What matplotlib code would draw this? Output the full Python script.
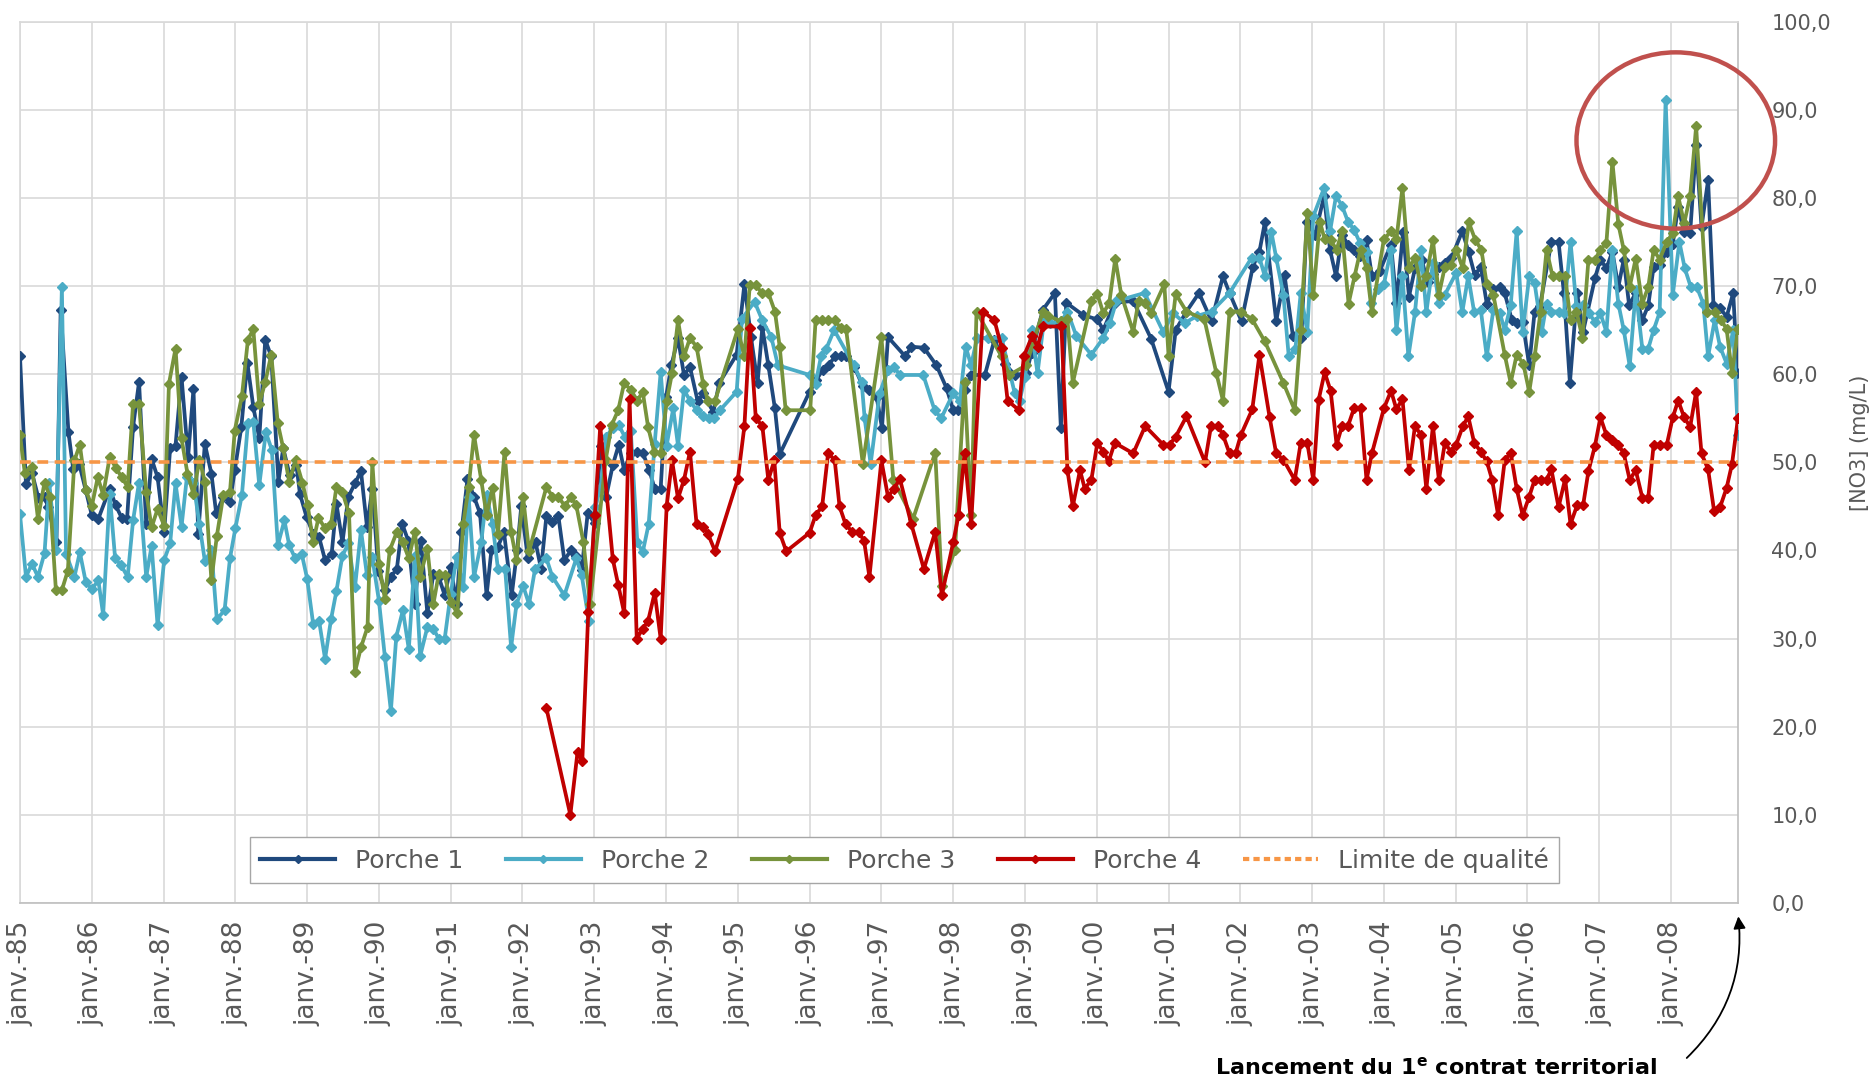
import matplotlib
matplotlib.use('Agg')
import matplotlib.pyplot as plt
from matplotlib.patches import Ellipse
from matplotlib.lines import Line2D

# mois depuis janv. 1985 / nitrates (mg/L)
p1_mois = [0.0, 1.0, 2.0, 3.1, 4.1, 4.7, 6.1, 6.8, 8.1, 8.9, 9.9, 11.0, 12.0, 13.1, 15.0, 16.0, 17.0, 17.9,
           18.9, 19.9, 21.1, 22.0, 23.0, 24.1, 25.1, 26.0, 27.0, 28.1, 29.0, 29.8, 30.9, 32.0, 32.8, 34.0,
           35.1, 35.9, 37.0, 38.0, 39.0, 40.0, 41.0, 42.0, 43.2, 44.0, 45.1, 46.2, 46.8, 47.9, 49.0, 50.0,
           51.0, 52.1, 52.9, 53.9, 54.9, 56.0, 57.0, 58.0, 58.9, 59.9, 61.0, 62.0, 63.0, 63.9, 64.9, 66.0,
           67.0, 68.1, 69.1, 70.0, 71.0, 72.0, 73.0, 73.8, 74.8, 75.9, 76.9, 78.0, 78.8, 79.9, 80.9, 82.2,
           83.1, 83.8, 84.9, 86.2, 87.1, 88.0, 89.0, 90.0, 91.0, 92.1, 93.0, 93.9, 94.9, 96.1, 97.1, 98.0,
           99.1, 100.1, 101.0, 102.1, 103.1, 104.1, 105.2, 106.1, 107.1, 108.0, 108.9, 110.0, 111.0, 112.0,
           113.3, 114.2, 115.9, 116.9, 119.8, 121.1, 122.2, 123.3, 124.1, 125.1, 126.2, 127.0, 132.0, 133.1,
           134.2, 135.2, 136.2, 137.2, 138.1, 139.5, 140.9, 142.0, 143.2, 144.1, 145.1, 148.0, 149.0, 151.1,
           153.2, 154.9, 156.0, 156.8, 157.9, 159.0, 161.3, 162.9, 164.6, 166.3, 168.2, 169.1, 171.0, 173.0,
           174.0, 174.9, 177.7, 180.1, 181.1, 183.0, 186.1, 189.1, 192.0, 193.2, 195.0, 197.1, 199.2, 201.1,
           202.2, 204.2, 206.1, 207.2, 208.1, 210.0, 211.4, 212.8, 214.2, 215.1, 216.5, 218.0, 219.0, 220.0,
           221.0, 222.0, 223.0, 224.0, 225.1, 226.0, 227.3, 229.2, 230.1, 231.2, 232.2, 233.2, 234.3, 235.3,
           236.2, 237.2, 238.2, 239.3, 241.1, 242.2, 243.2, 244.2, 245.2, 246.3, 247.4, 248.2, 249.4, 250.2,
           251.2, 252.3, 253.2, 254.1, 256.0, 257.2, 258.1, 259.1, 260.3, 261.3, 263.3, 264.2, 265.2, 266.2,
           267.2, 268.1, 269.0, 270.1, 271.2, 272.2, 273.1, 274.1, 275.3, 276.3, 277.2, 278.2, 279.2, 280.2,
           281.1, 282.2, 283.1, 284.2, 285.3, 286.4, 287.1]
p1_no3 = [62.0, 47.5, 48.8, 45.9, 46.1, 44.9, 41.0, 67.3, 53.4, 49.2, 49.8, 46.8, 44.0, 43.6, 47.0, 45.1, 43.7, 43.6,
          54.0, 59.1, 43.0, 50.4, 48.3, 42.1, 51.6, 51.9, 59.7, 50.6, 58.3, 41.9, 52.1, 48.7, 44.2, 46.1,
          45.5, 49.1, 54.0, 61.3, 56.3, 52.7, 63.9, 62.0, 47.8, 51.6, 48.5, 49.7, 46.4, 43.8, 41.9, 41.5,
          38.9, 39.6, 45.3, 40.9, 46.1, 47.6, 49.0, 42.7, 47.0, 37.7, 35.5, 37.0, 37.9, 43.0, 41.1, 33.9,
          41.1, 32.9, 37.3, 37.0, 34.9, 38.1, 33.9, 42.1, 48.1, 46.1, 44.2, 34.9, 40.0, 40.4, 42.1, 34.9,
          40.0, 45.0, 39.1, 40.9, 37.9, 43.9, 43.2, 43.9, 38.9, 40.0, 39.4, 37.8, 44.2, 43.1, 51.8, 46.1,
          49.7, 52.0, 49.1, 51.1, 51.2, 51.1, 49.1, 47.0, 47.0, 57.4, 61.0, 64.1, 59.9, 60.8,
          56.9, 57.8, 55.7, 59.0, 62.2, 70.2, 64.2, 59.0, 65.3, 61.0, 56.1, 50.9, 58.0, 59.3,
          60.5, 61.0, 62.0, 62.0, 62.0, 60.8, 58.6, 58.2, 57.4, 53.9, 64.2, 62.0, 63.1, 63.0,
          61.0, 58.4, 55.9, 55.9, 58.2, 59.9, 59.9, 63.9, 61.2, 59.9, 60.1, 62.4, 67.3, 69.2,
          53.9, 68.1, 66.7, 66.2, 65.0, 68.1, 68.3, 64.0, 58.0, 65.0, 67.1, 69.2, 66.0, 71.1,
          69.2, 66.0, 72.2, 73.9, 77.2, 66.0, 71.2, 64.3, 64.1, 77.2, 75.8, 80.2, 74.1, 71.1,
          75.8, 74.7, 74.1, 73.4, 75.2, 71.1, 71.7, 74.7, 68.1, 76.1, 68.8, 72.0, 73.0, 70.5,
          71.3, 72.2, 72.6, 73.2, 76.2, 73.8, 71.2, 72.2, 68.0, 69.6, 69.9, 69.2, 66.1, 65.8,
          65.9, 61.0, 67.1, 67.7, 75.0, 75.0, 69.2, 59.0, 69.2, 64.8, 70.9, 73.0, 72.0, 73.9,
          69.9, 73.0, 67.8, 69.2, 66.1, 67.8, 72.2, 72.4, 73.9, 74.8, 79.0, 76.1, 76.0, 86.0,
          76.7, 82.0, 67.8, 67.5, 66.5, 69.2, 60.1]

p2_mois = [0.0, 1.0, 2.0, 3.0, 4.1, 4.9, 6.0, 7.0, 7.7, 9.1, 10.0, 11.0, 12.0, 13.1, 13.9, 15.0, 15.9, 16.9,
           18.0, 18.9, 19.9, 21.1, 22.0, 23.0, 24.1, 25.1, 26.0, 27.0, 27.9, 29.0, 30.0, 30.9, 32.0, 32.9,
           34.2, 35.1, 36.0, 37.1, 38.1, 39.0, 40.0, 41.1, 42.1, 43.1, 44.2, 45.0, 46.0, 47.1, 48.0, 49.0,
           50.0, 51.0, 52.0, 52.9, 53.9, 54.9, 56.0, 57.0, 58.0, 58.9, 60.0, 61.0, 62.0, 62.9, 64.0, 65.0,
           66.0, 66.9, 68.1, 69.1, 70.0, 71.0, 72.0, 73.0, 74.1, 75.0, 75.9, 77.1, 78.0, 79.0, 79.9, 81.1,
           82.1, 83.0, 84.1, 85.1, 86.1, 88.0, 89.0, 91.0, 93.0, 93.9, 95.1, 96.1, 97.1, 98.0, 99.1, 100.1,
           101.1, 102.1, 103.2, 104.1, 105.1, 106.1, 107.1, 108.1, 109.2, 110.0, 111.0, 112.0, 113.1, 114.2,
           115.2, 116.1, 117.0, 119.8, 120.7, 122.8, 124.1, 125.6, 126.7, 132.0, 133.0, 133.9, 134.8, 136.1,
           139.4, 140.7, 141.2, 142.2, 143.7, 145.1, 146.1, 147.1, 151.0, 152.9, 154.0, 156.0, 157.1, 158.1,
           159.0, 160.0, 161.9, 164.1, 166.3, 167.1, 168.0, 169.1, 170.1, 171.2, 172.2, 174.1, 175.1, 176.6,
           179.1, 181.1, 182.2, 183.3, 188.0, 191.1, 192.8, 194.7, 196.8, 199.2, 202.2, 205.9, 207.2, 208.1,
           209.2, 210.0, 211.2, 212.1, 213.2, 214.1, 215.2, 216.2, 218.0, 219.0, 220.0, 221.0, 222.0, 223.0,
           224.0, 225.1, 225.9, 227.0, 228.0, 229.2, 230.1, 231.1, 232.1, 233.2, 234.2, 235.1, 236.2, 237.2,
           238.2, 240.1, 241.1, 242.1, 243.1, 244.2, 245.2, 246.3, 247.4, 248.2, 249.2, 250.2, 251.2, 252.3,
           253.2, 254.4, 255.2, 256.0, 257.2, 258.1, 259.2, 260.2, 261.3, 262.3, 263.3, 264.2, 265.2, 266.2,
           267.2, 268.1, 269.1, 270.1, 271.2, 272.2, 273.1, 274.1, 275.1, 276.3, 277.4, 278.3, 279.3, 280.3,
           281.4, 282.2, 283.3, 284.2, 285.3, 286.4, 287.2]
p2_no3 = [44.1, 37.0, 38.5, 37.0, 39.7, 47.6, 40.0, 69.9, 39.6, 37.0, 39.8, 36.4, 35.6, 36.6, 32.7, 46.4, 39.1, 38.3,
          37.0, 43.4, 47.7, 37.0, 40.5, 31.5, 38.9, 40.8, 47.6, 42.7, 48.3, 47.6, 43.0, 38.8, 40.0, 32.2,
          33.2, 39.1, 42.5, 46.3, 54.4, 54.6, 47.4, 53.4, 51.4, 40.6, 43.4, 40.6, 39.1, 39.6, 36.8, 31.7,
          32.0, 27.7, 32.2, 35.4, 39.4, 40.8, 35.8, 42.3, 37.2, 39.2, 34.3, 27.9, 21.8, 30.2, 33.2, 28.8,
          39.4, 28.0, 31.3, 31.1, 30.0, 30.0, 35.1, 39.2, 35.8, 46.1, 37.0, 40.9, 46.3, 43.0, 37.9, 37.9,
          29.0, 33.9, 36.0, 33.9, 37.9, 39.1, 37.0, 34.9, 39.1, 37.2, 32.0, 44.9, 47.2, 52.9, 53.9, 54.2,
          52.9, 53.6, 40.9, 39.8, 43.0, 52.1, 60.2, 51.9, 56.1, 51.9, 58.2, 57.0, 55.9, 55.2,
          55.0, 55.0, 55.9, 58.0, 66.3, 68.2, 66.1, 64.2, 61.0, 59.9, 58.9, 62.0, 62.9, 65.0,
          61.0, 59.1, 55.0, 49.8, 57.8, 60.5, 60.8, 59.9, 59.9, 55.9, 55.0, 57.8, 56.9, 63.1,
          61.0, 64.1, 64.1, 64.1, 57.8, 56.9, 59.7, 65.0, 60.1, 66.2, 65.8, 66.0, 67.1, 64.3,
          62.2, 64.1, 65.8, 68.3, 69.2, 64.8, 66.9, 65.8, 66.6, 67.1, 69.2, 73.2, 73.2, 71.1,
          76.1, 73.2, 69.0, 62.0, 62.8, 69.2, 64.8, 77.9, 81.1, 76.2, 80.2, 79.1, 77.3, 76.4,
          74.9, 73.9, 68.1, 69.6, 70.2, 74.1, 65.0, 71.1, 62.0, 67.0, 74.1, 67.0, 72.6, 68.1,
          69.0, 71.5, 67.0, 71.1, 67.0, 67.3, 62.0, 67.3, 66.9, 65.0, 67.8, 76.2, 64.8, 71.1,
          70.3, 64.8, 68.0, 67.1, 67.1, 66.9, 75.0, 67.7, 67.8, 66.9, 65.9, 66.9, 64.8, 74.1,
          68.0, 65.0, 60.9, 69.5, 62.9, 62.9, 65.0, 67.0, 91.1, 69.0, 75.0, 72.0, 69.9, 69.9,
          68.0, 62.0, 66.1, 63.1, 61.2, 65.0, 53.1]

p3_mois = [0.0, 0.8, 2.0, 3.0, 4.1, 5.0, 6.0, 7.0, 8.0, 9.1, 10.0, 11.0, 12.0, 13.0, 13.9, 15.0, 16.0, 17.0,
           18.0, 18.9, 19.9, 21.1, 22.0, 23.0, 24.1, 24.9, 26.0, 27.0, 28.0, 29.0, 30.0, 30.9, 32.0, 32.9,
           34.0, 35.1, 35.9, 37.1, 38.1, 39.0, 40.0, 41.0, 42.0, 43.1, 44.0, 45.0, 46.1, 47.2, 48.1, 49.0,
           49.9, 51.0, 52.0, 52.9, 53.9, 55.0, 56.0, 57.0, 58.1, 58.9, 60.0, 61.0, 61.8, 63.0, 64.0, 65.0,
           66.0, 66.9, 68.1, 69.1, 70.0, 71.0, 72.0, 73.1, 74.1, 75.0, 75.9, 77.1, 78.0, 79.0, 79.9, 81.0,
           82.1, 83.0, 84.1, 85.1, 88.0, 89.0, 90.0, 91.1, 92.1, 93.0, 94.2, 95.3, 97.9, 98.9, 100.0, 101.0,
           102.1, 103.2, 104.1, 105.0, 106.0, 107.1, 108.1, 109.0, 110.0, 111.0, 112.0, 113.1, 114.2, 115.0,
           116.2, 120.0, 121.1, 122.0, 123.0, 124.0, 125.1, 126.2, 127.0, 128.0, 132.1, 133.0, 134.1, 135.1,
           136.2, 137.2, 138.1, 140.9, 144.0, 146.0, 149.3, 153.0, 154.1, 156.3, 157.9, 159.0, 159.9, 164.1,
           165.4, 168.2, 171.0, 171.9, 174.0, 175.1, 176.0, 179.1, 180.1, 181.1, 182.1, 183.1, 184.1, 186.1,
           187.0, 188.1, 189.1, 191.3, 192.0, 193.2, 195.0, 198.0, 200.0, 201.1, 202.2, 204.1, 206.0, 208.1,
           211.2, 213.1, 214.1, 215.2, 216.2, 217.3, 218.1, 219.1, 220.1, 221.0, 222.1, 223.1, 224.1, 225.1,
           226.0, 228.0, 229.2, 230.1, 231.1, 232.2, 233.2, 234.2, 235.1, 236.2, 237.2, 238.2, 239.3, 240.1,
           241.2, 242.2, 243.3, 244.3, 245.2, 246.3, 248.2, 249.2, 250.2, 251.3, 252.3, 253.2, 254.2, 255.2,
           256.2, 257.3, 258.3, 259.2, 260.2, 261.2, 262.2, 263.3, 264.2, 265.2, 266.2, 267.2, 268.1, 269.1,
           270.1, 271.2, 272.2, 273.1, 274.1, 275.3, 276.3, 277.2, 278.2, 279.2, 280.2, 282.1, 283.3, 284.4,
           285.3, 286.2, 287.2]
p3_no3 = [53.1, 48.8, 49.5, 43.6, 47.7, 46.1, 35.5, 35.5, 37.7, 50.2, 52.0, 46.9, 45.0, 48.3, 46.3, 50.6, 49.4, 48.3,
          47.2, 56.6, 56.6, 46.6, 42.6, 44.7, 42.8, 58.9, 62.9, 52.7, 48.7, 46.4, 50.3, 47.8, 36.6, 41.6,
          46.3, 46.6, 53.6, 57.5, 63.9, 65.1, 56.6, 59.1, 62.2, 54.4, 51.6, 47.8, 50.3, 47.7, 45.1, 40.9,
          43.7, 42.5, 43.0, 47.2, 46.6, 44.2, 26.2, 29.0, 31.3, 50.0, 38.5, 34.5, 40.0, 42.1, 40.9, 39.1,
          42.1, 37.0, 40.2, 33.9, 37.3, 37.2, 34.1, 32.9, 43.0, 47.2, 53.1, 48.0, 44.0, 47.1, 41.9, 51.2,
          42.1, 38.9, 46.1, 39.9, 47.2, 46.1, 46.1, 45.0, 46.1, 45.1, 40.9, 33.9, 50.2, 54.2, 55.9, 59.0,
          58.2, 57.0, 58.0, 54.0, 51.2, 51.0, 56.9, 60.1, 66.1, 62.0, 64.1, 63.1, 58.9, 57.0,
          57.0, 65.1, 62.0, 70.1, 70.1, 69.2, 69.2, 67.1, 63.1, 55.9, 55.9, 66.1, 66.1, 66.1,
          66.1, 65.2, 65.1, 49.8, 64.2, 48.0, 43.6, 51.1, 36.0, 40.0, 59.1, 44.0, 67.1, 62.0,
          59.9, 61.0, 67.1, 66.6, 66.0, 66.2, 59.0, 68.3, 69.1, 66.9, 68.1, 73.1, 69.0, 64.8,
          68.3, 68.1, 66.9, 70.2, 62.1, 69.1, 67.1, 66.2, 60.1, 57.0, 67.1, 67.1, 66.2, 63.7,
          59.0, 55.9, 65.0, 78.3, 69.0, 77.3, 75.3, 75.2, 74.1, 76.2, 68.0, 71.1, 74.1, 72.0,
          67.0, 75.3, 76.2, 75.3, 81.1, 72.0, 73.2, 70.0, 71.1, 75.2, 69.0, 72.2, 72.4, 74.1,
          72.0, 77.2, 75.2, 74.1, 70.2, 69.0, 62.2, 59.0, 62.2, 61.2, 58.0, 62.0, 67.1, 74.1,
          71.1, 71.1, 71.1, 66.1, 67.1, 64.1, 73.0, 73.0, 74.1, 74.9, 84.1, 77.0, 74.1, 69.9,
          73.1, 68.0, 69.9, 74.1, 73.0, 75.0, 76.0, 80.2, 77.1, 80.2, 88.1, 67.0, 67.0, 66.1,
          65.1, 60.1, 65.1]

p4_mois = [88.0, 92.0, 93.2, 94.0, 95.0, 96.1, 97.0, 99.1, 100.0, 101.0, 101.9, 103.1, 104.1, 105.0, 106.1, 107.1,
           108.1, 109.0, 110.0, 111.0, 112.0, 113.1, 114.2, 115.0, 116.2, 120.0, 121.1, 122.0, 123.0, 124.1,
           125.1, 126.1, 127.0, 128.1, 132.0, 133.0, 134.1, 135.1, 136.2, 137.0, 138.0, 139.1, 140.2, 141.1,
           142.0, 144.0, 145.1, 146.1, 147.1, 149.0, 151.1, 153.0, 154.1, 156.0, 156.9, 157.9, 159.0, 161.0,
           162.9, 164.1, 165.1, 167.0, 167.8, 169.2, 170.1, 171.0, 174.1, 175.1, 176.0, 177.2, 178.0, 179.1,
           180.1, 181.1, 182.0, 183.0, 186.1, 188.1, 191.1, 192.2, 193.2, 195.0, 198.1, 199.1, 200.3, 201.1,
           202.2, 203.2, 204.1, 206.0, 207.2, 208.9, 210.0, 211.2, 213.1, 214.1, 215.2, 216.2, 217.1, 218.1,
           219.1, 220.1, 221.0, 222.0, 223.0, 224.1, 225.1, 226.0, 228.0, 229.2, 230.1, 231.1, 232.2, 233.2,
           234.2, 235.1, 236.2, 237.2, 238.2, 239.2, 240.1, 241.2, 242.1, 243.1, 244.2, 245.2, 246.1, 247.1,
           248.2, 249.2, 250.2, 251.2, 252.3, 253.2, 254.2, 255.2, 256.0, 257.2, 258.3, 259.2, 260.3, 261.3,
           262.2, 263.3, 264.2, 265.2, 266.2, 267.2, 268.1, 269.1, 270.1, 271.2, 272.2, 273.1, 274.1, 275.3,
           276.3, 277.2, 278.2, 279.2, 280.2, 281.1, 282.2, 283.2, 284.2, 285.3, 286.2, 287.2]
p4_no3 = [22.1, 10.0, 17.1, 16.1, 33.0, 44.0, 54.1, 39.0, 36.1, 32.9, 57.2, 30.0, 31.1, 32.0, 35.2, 30.0,
          45.0, 50.2, 45.9, 48.0, 51.2, 43.0, 42.7, 41.9, 39.9, 48.1, 54.1, 65.2, 55.0, 54.1,
          48.0, 50.2, 42.0, 39.9, 42.0, 44.0, 45.0, 51.1, 50.2, 45.0, 43.0, 42.1, 42.1, 41.1,
          37.0, 50.2, 46.1, 47.0, 48.1, 43.0, 37.9, 42.1, 34.9, 40.9, 44.0, 51.1, 43.0, 67.1,
          66.1, 63.0, 57.0, 55.9, 62.0, 64.3, 63.1, 65.4, 65.4, 49.1, 45.0, 49.1, 47.0, 48.0,
          52.2, 51.2, 50.1, 52.2, 51.0, 54.1, 52.0, 52.0, 52.9, 55.2, 50.0, 54.1, 54.1, 53.1,
          51.0, 51.0, 53.1, 56.0, 62.2, 55.1, 51.0, 50.3, 48.0, 52.2, 52.2, 48.0, 57.1, 60.2,
          58.1, 52.0, 54.1, 54.1, 56.1, 56.1, 48.0, 51.0, 56.1, 58.1, 56.0, 57.2, 49.1, 54.1,
          53.1, 47.0, 54.1, 48.0, 52.2, 51.2, 52.0, 54.1, 55.2, 52.2, 51.2, 50.1, 48.0, 44.0,
          50.2, 51.1, 47.0, 44.0, 46.1, 48.0, 48.0, 48.0, 49.2, 44.9, 48.1, 43.0, 45.1, 45.1,
          49.0, 51.9, 55.1, 53.1, 52.5, 52.0, 51.0, 48.0, 49.1, 46.0, 46.0, 52.0, 52.0, 52.0,
          55.1, 57.0, 55.1, 54.0, 58.0, 51.0, 49.2, 44.5, 44.9, 47.1, 49.8, 55.0]

limite_qualite = 50.0
annees = list(range(85, 100)) + list(range(0, 9))
noms = ['Porche 1', 'Porche 2', 'Porche 3', 'Porche 4']
couleurs = ['#1F497D', '#4BACC6', '#77933C', '#C00000']
gris = '#595959'

fig = plt.figure(figsize=(18.76, 10.81), dpi=100)
ax = fig.add_axes([20 / 1876, 1 - 903 / 1081, 1718 / 1876, 881.5 / 1081])

series = [(p1_mois, p1_no3), (p2_mois, p2_no3), (p3_mois, p3_no3), (p4_mois, p4_no3)]
for (mois, no3), nom, c in zip(series, noms, couleurs):
    ax.plot(mois, no3, color=c, lw=2.7, marker='D', markersize=5.5, label=nom, zorder=3)

ax.plot([0, 287.2], [limite_qualite, limite_qualite], color='#F79646', lw=2.6,
        dashes=(3.0, 1.8), label='Limite de qualité', zorder=4)

ax.set_xlim(0, 287.2)
ax.set_ylim(0, 100)
ax.set_xticks([12 * i for i in range(len(annees))])
ax.set_xticklabels(['janv.-%02d' % a for a in annees], rotation=90, fontsize=19, color=gris)
ax.set_yticks(range(0, 101, 10))
ax.set_yticklabels([('%.1f' % v).replace('.', ',') for v in range(0, 101, 10)], fontsize=15, color=gris)
ax.yaxis.tick_right()
ax.tick_params(axis='x', length=0, pad=13)
ax.tick_params(axis='y', length=0, pad=24)
ax.grid(True, color='#D9D9D9', lw=1.2)
ax.set_axisbelow(True)
for s in ax.spines.values():
    s.set_color('#D9D9D9')
    s.set_linewidth(1.2)
ax.spines['bottom'].set_color('#BFBFBF')
ax.spines['right'].set_color('#BFBFBF')

fig.text(1860 / 1876, 1 - 443 / 1081, '[NO3] (mg/L)', rotation=90, ha='center', va='center',
         fontsize=15, color=gris)

# cercle rouge autour des pics 2007-2008
ax.add_patch(Ellipse((276.8, 86.5), 33.2, 20.0, fill=False, edgecolor='#C0504D', lw=3.2,
                     clip_on=False, zorder=5))

handles = [Line2D([], [], color=c, lw=3, marker='D', markersize=4) for c in couleurs]
handles.append(Line2D([], [], color='#F79646', lw=3, dashes=(1.5, 1)))
leg = ax.legend(handles, noms + ['Limite de qualité'], loc='lower center', bbox_to_anchor=(0.515, 0.023),
                borderaxespad=0, ncol=5, fontsize=18, frameon=True, fancybox=False, framealpha=1,
                edgecolor='#A6A6A6', handlelength=3.0, columnspacing=1.7, numpoints=1, borderpad=0.4)
for t in leg.get_texts():
    t.set_color(gris)
leg.set_zorder(6)

ax.text(0.824, -0.186, r'Lancement du 1$^{\mathbf{e}}$ contrat territorial', transform=ax.transAxes,
        ha='center', va='center', fontsize=16, fontweight='bold', color='black')
ax.annotate('', xy=(1.0, -0.012), xycoords='axes fraction', xytext=(0.969, -0.178),
            textcoords='axes fraction',
            arrowprops=dict(arrowstyle='-|>', color='black', lw=1.3, mutation_scale=18,
                            connectionstyle='arc3,rad=0.25'))

fig.savefig('out.png', dpi=100)
